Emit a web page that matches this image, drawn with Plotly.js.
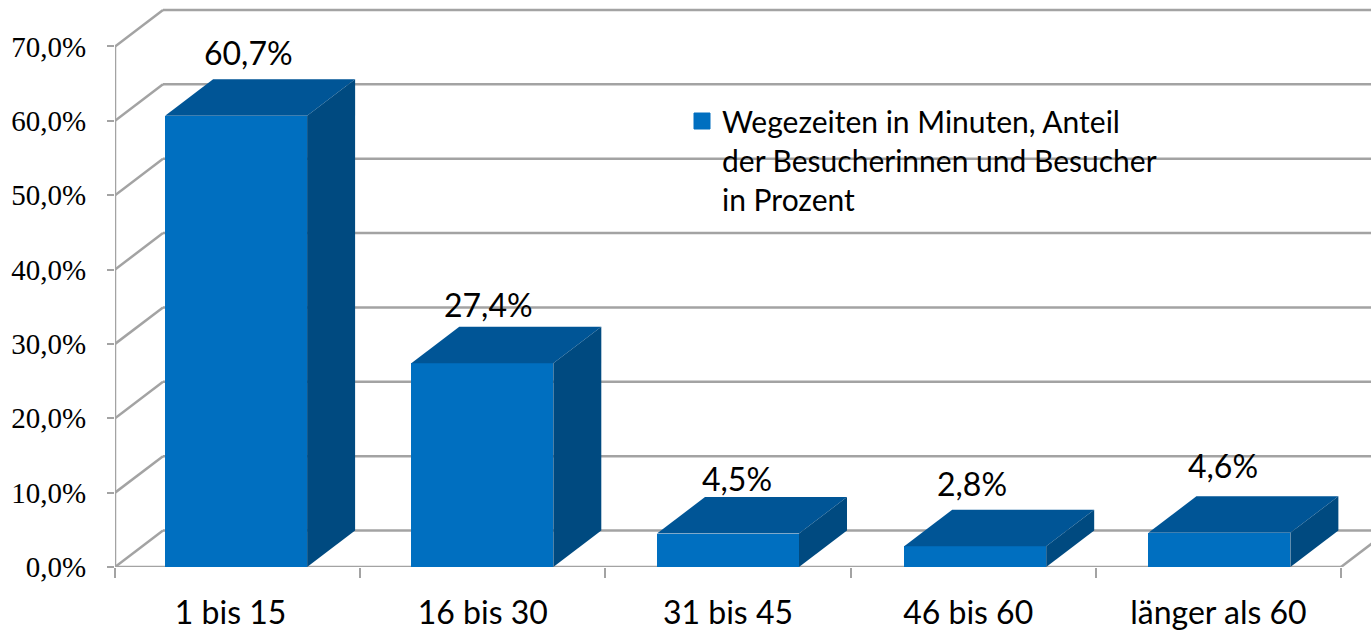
<!DOCTYPE html>
<html><head><meta charset="utf-8">
<script src="https://cdn.plot.ly/plotly-3.0.1.min.js"></script>
<style>html,body{margin:0;padding:0;background:#fff}#c{width:1371px;height:630px}</style>
</head><body><div id="c"></div>
<script>
const categories = ["1 bis 15","16 bis 30","31 bis 45","46 bis 60","länger als 60"];
const values = [60.7,27.4,4.5,2.8,4.6];
const valueLabels = ["60,7%","27,4%","4,5%","2,8%","4,6%"];
const yTicks = [0,10,20,30,40,50,60,70];
const yTickLabels = ["0,0%","10,0%","20,0%","30,0%","40,0%","50,0%","60,0%","70,0%"];
const seriesName = "Wegezeiten in Minuten, Anteil<br>der Besucherinnen und Besucher<br>in Prozent";
const labelShiftX = [11,6,9,-1,5];
const labelShiftY = [63,59,55,63,67];
const catLabelShift = [-7,0,0,-5,0];
const barShift = [-1.5,-0.5,0,2,1];

const W=1371,H=630,mL=115,mB=63;
const pxPerCat=245.2, pxPerPct=7.436;
const dx=48/pxPerCat, dy=36.5/pxPerPct, barW=142/pxPerCat;
const xMin=-0.5, xEnd=categories.length-0.5, xMax=xMin+(W-mL)/pxPerCat, yMax=(H-mB)/pxPerPct;
const grey="#a3a3a3", front="#006fc0", topC="#005596", sideC="#004a80";

const idx=categories.map((_,i)=>i);
const barX=idx.map(i=>i+barShift[i]/pxPerCat);
const edges=[...idx.map(i=>i-0.5),xEnd];
const traces=[{type:"bar",x:barX,y:values,width:barW,marker:{color:front,line:{width:0}},showlegend:false,hoverinfo:"skip"}];
idx.forEach(i=>{
  const l=barX[i]-barW/2,r=barX[i]+barW/2,v=values[i];
  traces.push({type:"scatter",mode:"lines",x:[l,r,r+dx,l+dx,l],y:[v,v,v+dy,v+dy,v],fill:"toself",fillcolor:topC,line:{width:0,color:topC},showlegend:false,hoverinfo:"skip"});
  traces.push({type:"scatter",mode:"lines",x:[r,r+dx,r+dx,r,r],y:[0,dy,v+dy,v,0],fill:"toself",fillcolor:sideC,line:{width:0,color:sideC},showlegend:false,hoverinfo:"skip"});
});
traces.push({type:"scatter",mode:"markers",x:[null],y:[null],name:seriesName,marker:{symbol:"square",size:16,color:front,line:{width:1,color:front}},showlegend:true,hoverinfo:"skip"});

const ln=(x0,y0,x1,y1)=>({type:"line",layer:"below",xref:"x",yref:"y",x0,y0,x1,y1,line:{color:grey,width:2.5}});
const shapes=[];
yTicks.forEach(t=>{
  shapes.push(ln(xMin+dx,t+dy,xMax,t+dy));
  shapes.push(ln(xMin,t,xMin+dx,t+dy));
});
shapes.push(ln(xMin,0,xEnd,0));
shapes.push(ln(xEnd,0,xEnd+dx,dy));
shapes.push(ln(xMin,0,xMin,yTicks[yTicks.length-1]));

const annotations=idx.map(i=>({x:i,y:values[i],xref:"x",yref:"y",text:valueLabels[i],showarrow:false,xanchor:"center",yanchor:"middle",xshift:labelShiftX[i],yshift:labelShiftY[i],font:{family:"Lato",size:32,color:"#000"}}));

Plotly.newPlot("c",traces,{
  width:W,height:H,paper_bgcolor:"#fff",plot_bgcolor:"#fff",
  margin:{l:mL,r:0,t:0,b:mB,pad:0},
  bargap:0,
  xaxis:{range:[xMin,xMax],tickmode:"array",tickvals:idx.map(i=>i+catLabelShift[i]/pxPerCat),ticktext:categories,ticks:"",showgrid:false,zeroline:false,showline:false,ticklabelstandoff:24,
    tickfont:{family:"Lato",size:32,color:"#000"},
    minor:{tickmode:"array",tickvals:edges,ticks:"outside",ticklen:10,tickwidth:2,tickcolor:grey,showgrid:false}},
  yaxis:{range:[0,yMax],tickmode:"array",tickvals:yTicks,ticktext:yTickLabels,ticks:"outside",ticklen:7,tickwidth:2,tickcolor:grey,showgrid:false,zeroline:false,showline:false,ticklabelstandoff:15,
    tickfont:{family:"Liberation Serif",size:29,color:"#000"}},
  shapes,annotations,
  legend:{x:(682-mL)/(W-mL),y:1-(95/(H-mB)),xanchor:"left",yanchor:"top",valign:"top",bgcolor:"rgba(0,0,0,0)",font:{family:"Lato",size:30,color:"#000"},itemsizing:"trace",itemwidth:30}
},{displayModeBar:false,staticPlot:true});
</script></body></html>
